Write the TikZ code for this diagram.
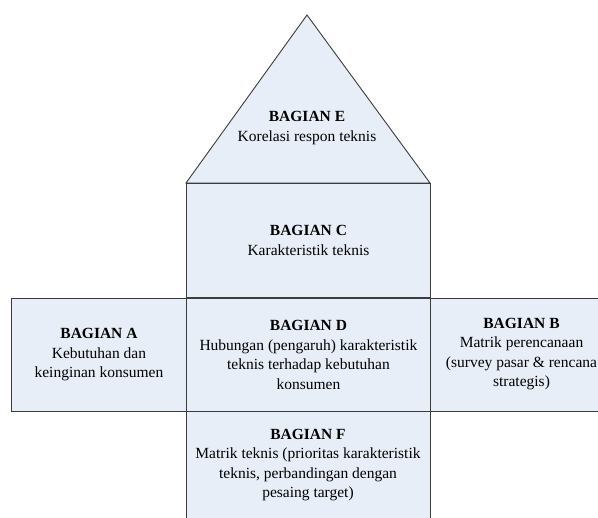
\documentclass[tikz,border=0pt]{standalone}
\usepackage{fontspec}
\setmainfont{Liberation Serif}
\definecolor{boxfill}{HTML}{E8EEF7}
\definecolor{boxline}{HTML}{3C3C3C}
\tikzset{
  part/.style={draw=boxline, fill=boxfill, line width=0.9pt, rectangle, inner sep=0pt, anchor=north west},
  lbl/.style={align=center, font=\fontsize{15.5}{19.5}\selectfont, text=black, inner sep=0pt}
}
\begin{document}
\begin{tikzpicture}[x=1pt,y=-1pt]
\useasboundingbox (0,0) rectangle (598,518);
\clip (0,0) rectangle (598,518);
% roof (part E)
\coordinate (apex) at (307,15);
\coordinate (bl) at (186,183);
\coordinate (br) at (430,183);
\draw[draw=boxline, fill=boxfill, line width=0.9pt, line join=miter] (bl) -- (apex) -- (br) -- cycle;
% boxes
\node[part, minimum width=244pt, minimum height=114pt] (C) at (186,183) {};
\node[part, minimum width=175pt, minimum height=113pt] (A) at (11,298) {};
\node[part, minimum width=244pt, minimum height=113pt] (D) at (186,298) {};
\node[part, minimum width=183pt, minimum height=113pt] (B) at (430,298) {};
\node[part, minimum width=244pt, minimum height=110pt] (F) at (186,411) {};
% texts
\node[lbl] (tE) at (307,128) {\textbf{BAGIAN E}\\Korelasi respon teknis};
\node[lbl] (tC) at (C.center) {\textbf{BAGIAN C}\\Karakteristik teknis};
\node[lbl] (tA) at (A.center) {\textbf{BAGIAN A}\\Kebutuhan dan\\keinginan konsumen};
\node[lbl] (tD) at (D.center) {\textbf{BAGIAN D}\\Hubungan (pengaruh) karakteristik\\teknis terhadap kebutuhan\\konsumen};
\node[lbl] (tB) at (521.5,354) {\textbf{BAGIAN B}\\Matrik perencanaan\\(survey pasar \& rencana\\strategis)};
\node[lbl] (tF) at (308,465) {\textbf{BAGIAN F}\\Matrik teknis (prioritas karakteristik\\teknis, perbandingan dengan\\pesaing target)};
\end{tikzpicture}
\end{document}
